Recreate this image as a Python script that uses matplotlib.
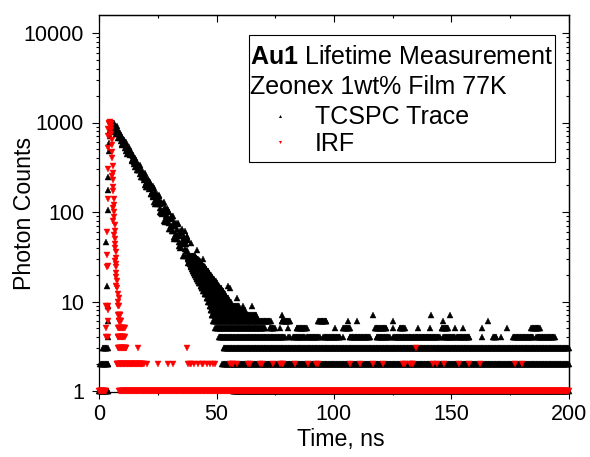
import numpy as np
import matplotlib
matplotlib.use("Agg")
import matplotlib.pyplot as plt
from matplotlib.lines import Line2D
from matplotlib.patches import Rectangle
from matplotlib.ticker import FixedLocator, FuncFormatter, MultipleLocator, NullFormatter

plt.rcParams['font.family'] = ['Liberation Sans', 'DejaVu Sans']
plt.rcParams['mathtext.fontset'] = 'custom'
plt.rcParams['mathtext.rm'] = 'Liberation Sans'
plt.rcParams['mathtext.bf'] = 'Liberation Sans:bold'

# ---------------- data ----------------
CHANNEL = 0.25  # ns, spacing of plotted channels inside dense runs

# TCSPC trace: rising edge
tcspc_rise_t = [2.9, 3.3, 3.5, 3.6, 3.6, 3.7, 3.8, 3.85, 3.9, 4.0, 4.2, 4.4, 4.6, 4.8, 5.0]
tcspc_rise_counts = [46, 15, 105, 9, 4, 6, 176, 9, 247, 480, 590, 700, 820, 900, 960]

# TCSPC trace: decay, channels every 0.25 ns from 5.25 ns to 38 ns
tcspc_decay_start = 5.25
tcspc_decay_counts = [
    1000, 901, 990, 911, 985, 835, 867, 751, 883, 831,
    751, 828, 689, 755, 696, 773, 626, 658, 574, 651,
    577, 636, 563, 576, 482, 566, 501, 512, 453, 533,
    465, 432, 486, 442, 386, 435, 390, 430, 358, 372,
    321, 378, 356, 321, 356, 294, 324, 298, 336, 266,
    282, 243, 281, 245, 277, 241, 248, 201, 246, 213,
    221, 190, 236, 199, 182, 215, 191, 160, 191, 166,
    193, 149, 160, 130, 168, 156, 135, 160, 122, 143,
    128, 155, 110, 122, 98, 125, 103, 125, 102, 109,
    80, 111, 90, 96, 78, 110, 85, 75, 99, 84,
    65, 86, 70, 90, 62, 69, 52, 78, 70, 57,
    75, 50, 65, 55, 75, 46, 54, 40, 58, 44,
    59, 45, 50, 32, 52, 39, 44, 32, 54, 38,
    32, 49]

# TCSPC trace: in-between channels every 0.5 ns from 5.375 ns (band edges)
tcspc_decay2_start = 5.375
tcspc_decay2_counts = [
    894, 849, 951, 793, 908, 677, 759, 669, 729, 563,
    631, 525, 602, 449, 503, 443, 484, 373, 418, 348,
    399, 297, 334, 293, 324, 245, 280, 228, 271, 192,
    225, 193, 221, 158, 189, 148, 186, 122, 150, 127,
    151, 101, 128, 96, 129, 78, 101, 83, 104, 64,
    87, 62, 90, 50, 69, 55, 74, 42, 61, 41,
    65, 32, 48, 37, 53, 27]

# TCSPC trace: runs of channels sharing one integer count (level, start ns, end ns)
tcspc_run_level = [1, 2, 3,
                   32, 31, 30, 29, 28, 27, 26, 25, 24, 23, 22, 21, 20, 19, 18, 17, 16,
                   15, 14, 13, 12, 11, 10, 9, 8, 7, 6, 5, 4, 3, 2, 1,
                   4, 4, 4, 4, 4, 4, 4, 4, 4, 4, 4, 4, 4, 4, 4,
                   5, 5, 5, 5, 5, 5, 5, 5, 5, 5, 5, 5, 5, 5, 5, 5, 5,
                   6, 6, 6, 6, 6, 6, 6,
                   7, 7, 7, 7]
tcspc_run_start = [0.0, 0.5, 1.5,
                   37.6, 37.8, 38.0, 38.2, 38.4, 38.6, 38.8, 39.0, 39.3, 39.6, 39.9, 40.3, 40.7, 41.2, 41.6, 42.1, 42.6,
                   43.2, 43.7, 44.4, 45.0, 45.7, 46.5, 47.0, 47.5, 48.0, 48.5, 49.5, 51.0, 53.0, 52.5, 57.0,
                   80.6, 82.7, 88.4, 95.5, 104.0, 106.8, 118.2, 125.3, 146.6, 152.3, 163.0, 167.9, 171.4, 176.4, 186.3,
                   72.7, 77.0, 80.5, 84.1, 100.4, 104.0, 117.5, 125.3, 128.1, 135.9, 140.9, 145.9, 151.6, 155.1, 163.0, 173.6, 184.2,
                   77.7, 93.3, 106.1, 109.7, 125.3, 146.6, 165.8,
                   77.7, 116.8, 141.6, 149.4]
tcspc_run_end = [3.8, 3.8, 3.6,
                 41.0, 41.5, 42.0, 42.5, 43.0, 43.5, 44.0, 44.6, 45.2, 45.8, 46.4, 47.0, 47.6, 48.2, 48.9, 49.6, 50.3,
                 51.1, 52.0, 52.9, 53.9, 55.0, 56.2, 59.5, 62.0, 67.0, 73.0, 70.6, 79.0, 200.0, 200.0, 200.0,
                 81.3, 87.7, 94.1, 102.6, 104.0, 115.3, 123.9, 145.2, 151.6, 158.0, 163.0, 169.3, 171.4, 184.9, 194.2,
                 74.9, 77.0, 80.5, 88.4, 100.4, 106.8, 122.4, 125.3, 130.3, 135.9, 140.9, 148.7, 151.6, 155.1, 163.0, 173.6, 187.8,
                 81.3, 96.9, 106.1, 109.7, 125.3, 146.6, 165.8,
                 77.7, 116.8, 141.6, 149.4]

# TCSPC trace: isolated high points
tcspc_extra_t = [36.5, 39.0, 41.5, 44.0, 55.0, 55.7, 58.6, 61.4, 65.0]
tcspc_extra_counts = [62, 45, 38, 30, 15, 14, 11, 9, 9]

# IRF: main pulse
irf_t = [2.9, 2.9, 2.9, 3.1, 3.3, 3.4, 3.5, 3.6, 3.7, 3.8, 3.9, 4.0,
         4.2, 4.4, 4.6, 4.8,
         5.0, 5.1, 5.2, 5.3, 5.4, 5.5, 5.6, 5.7, 5.8, 5.9,
         5.5, 5.8, 6.0, 6.1, 6.2, 5.9, 6.3, 6.4, 6.0, 6.5, 6.6, 6.3,
         6.8, 6.9, 6.5, 7.0, 7.1, 6.8, 7.2, 7.0, 7.3, 7.1, 7.4, 7.2,
         7.6, 7.9, 8.3, 8.0, 8.6, 7.8, 3.6, 3.85, 3.85, 3.85, 3.85]
irf_counts = [4, 5, 9, 24, 33, 60, 140, 300, 520, 700, 850, 950,
              1000, 990, 1005, 960,
              900, 820, 740, 640, 560, 470, 400, 330, 270, 225,
              250, 190, 170, 140, 120, 110, 100, 88, 80, 72, 62, 55,
              50, 44, 40, 36, 31, 28, 26, 24, 21, 19, 17, 15,
              14, 12, 11, 10, 9, 9, 25, 8, 9, 6, 4]

# IRF: runs of channels sharing one count (level, start, end)
irf_run_level = [1, 1, 2, 3, 4, 5, 6, 7]
irf_run_start = [0.0, 8.5, 7.4, 8.0, 7.8, 8.0, 8.2, 8.0]
irf_run_end = [2.8, 200.0, 19.0, 11.5, 11.0, 10.8, 9.3, 9.0]

# IRF: isolated points at 2 and 3 counts in the tail
irf_two_t = [20.2, 25.2, 29.4, 31.5, 37.9, 38.6, 39.3, 40.5, 42.2, 43.6, 44.3, 45.9,
             47.1, 48.5, 49.5, 55.6, 56.4, 57.2, 58.5, 63.4, 64.2, 68.4, 69.4, 74.1,
             77.0, 77.7, 78.4, 83.4, 88.8, 92.3, 93.3, 106.8, 111.1, 116.8, 121.0, 129.5,
             130.3, 132.4, 133.1, 133.8, 142.3, 144.0, 146.9, 153.4, 157.5, 162.2, 177.1, 180.1]
irf_three_t = [16.3, 37.4, 135.0]

x_ticks = [0, 50, 100, 150, 200]
y_ticks = [1, 10, 100, 1000, 10000]


def expand_runs(levels, starts, ends):
    ts, cs = [], []
    for c, a, b in zip(levels, starts, ends):
        t = np.arange(a, b + 1e-9, CHANNEL) if b > a else np.array([a])
        ts.append(t)
        cs.append(np.full(t.shape, c, dtype=float))
    return np.concatenate(ts), np.concatenate(cs)


decay_t = tcspc_decay_start + CHANNEL * np.arange(len(tcspc_decay_counts))
decay2_t = tcspc_decay2_start + 2 * CHANNEL * np.arange(len(tcspc_decay2_counts))
run_t, run_c = expand_runs(tcspc_run_level, tcspc_run_start, tcspc_run_end)
tc_t = np.concatenate([run_t, tcspc_rise_t, decay_t, decay2_t, tcspc_extra_t])
tc_c = np.concatenate([run_c, tcspc_rise_counts, tcspc_decay_counts, tcspc_decay2_counts,
                       tcspc_extra_counts])

irun_t, irun_c = expand_runs(irf_run_level, irf_run_start, irf_run_end)
ir_t = np.concatenate([irun_t, irf_t, irf_two_t, irf_three_t])
ir_c = np.concatenate([irun_c, irf_counts, np.full(len(irf_two_t), 2.0), np.full(len(irf_three_t), 3.0)])

# ---------------- figure ----------------
W, H = 590, 457
fig = plt.figure(figsize=(W / 100, H / 100), dpi=100)
ax_l, ax_r, ax_t, ax_b = 99.3, 568.5, 15.0, 392.0
AW, AH = ax_r - ax_l, ax_b - ax_t
ax = fig.add_axes([ax_l / W, 1 - ax_b / H, AW / W, AH / H])


def px_to_ax(x, y):
    return (x - ax_l) / AW, (ax_b - y) / AH


ax.plot(tc_t, tc_c, ls='none', marker='^', ms=4.4, mew=0.3, color='black', clip_on=False, zorder=3)
ax.plot(ir_t, ir_c, ls='none', marker='v', ms=4.4, mew=0.3, color='#ff0000', clip_on=False, zorder=4)

ax.set_yscale('log')
ax.set_xlim(0, 200)
ax.set_ylim(10 ** (-1.0 / 89.5), 10 ** ((391.0 - 15.0) / 89.5))

minor_y = [m * 10 ** e for e in range(0, 5) for m in range(2, 10)]
ax.xaxis.set_major_locator(FixedLocator(x_ticks))
ax.xaxis.set_minor_locator(MultipleLocator(25))
ax.yaxis.set_major_locator(FixedLocator(y_ticks))
ax.yaxis.set_minor_locator(FixedLocator(minor_y))
ax.yaxis.set_major_formatter(FuncFormatter(lambda v, p: f"{int(round(v))}"))
ax.yaxis.set_minor_formatter(NullFormatter())

for s in ax.spines.values():
    s.set_linewidth(0.9)
ax.tick_params(which='major', direction='out', length=5, width=0.8, labelsize=15.5)
ax.tick_params(which='minor', direction='out', length=2.5, width=0.8)
ax.tick_params(axis='y', which='major', pad=6)
ax.tick_params(axis='x', which='major', pad=4)

# mirrored inward ticks on top and right
top = ax.secondary_xaxis('top')
top.xaxis.set_major_locator(FixedLocator(x_ticks))
top.xaxis.set_minor_locator(MultipleLocator(25))
top.tick_params(which='major', direction='in', length=5, width=0.8, labeltop=False)
top.tick_params(which='minor', direction='in', length=2.5, width=0.8)
top.spines['top'].set_linewidth(0.9)
right = ax.secondary_yaxis('right')
right.yaxis.set_major_locator(FixedLocator(y_ticks))
right.yaxis.set_minor_locator(FixedLocator(minor_y))
right.yaxis.set_minor_formatter(NullFormatter())
right.tick_params(which='major', direction='in', length=5, width=0.8, labelright=False)
right.tick_params(which='minor', direction='in', length=2.5, width=0.8)
right.spines['right'].set_linewidth(0.9)

ax.set_xlabel('Time, ns', fontsize=16.7)
ax.set_ylabel('Photon Counts', fontsize=16.7)
ax.xaxis.set_label_coords(*px_to_ax(341.3, 428.0))
ax.yaxis.set_label_coords(*px_to_ax(36.0, 213.0))

# legend frame drawn as a plain rectangle
x0, y0 = px_to_ax(249.0, 162.0)
x1, y1 = px_to_ax(555.0, 35.0)
ax.add_patch(Rectangle((x0, y0), x1 - x0, y1 - y0, transform=ax.transAxes,
                       facecolor='white', edgecolor='black', linewidth=0.8,
                       zorder=9, clip_on=False))

handles = [Line2D([], [], ls='none', marker='^', ms=2.2, mew=0, color='black'),
           Line2D([], [], ls='none', marker='v', ms=2.2, mew=0, color='#ff0000')]
leg = ax.legend(handles, ['TCSPC Trace', 'IRF'],
                title='$\\bf{Au1}$ Lifetime Measurement\nZeonex 1wt% Film 77K',
                loc='upper left', bbox_to_anchor=px_to_ax(250.5, 45.0),
                borderaxespad=0, frameon=False, fontsize=18, title_fontsize=18,
                handlelength=2.36, handletextpad=0.22, labelspacing=0.1,
                borderpad=0.0, alignment='left')
leg.get_title().set_linespacing(1.29)
leg._legend_box.sep = 0.15 * 18 + 2.2
leg.set_zorder(10)

fig.savefig('out.png', dpi=100)
